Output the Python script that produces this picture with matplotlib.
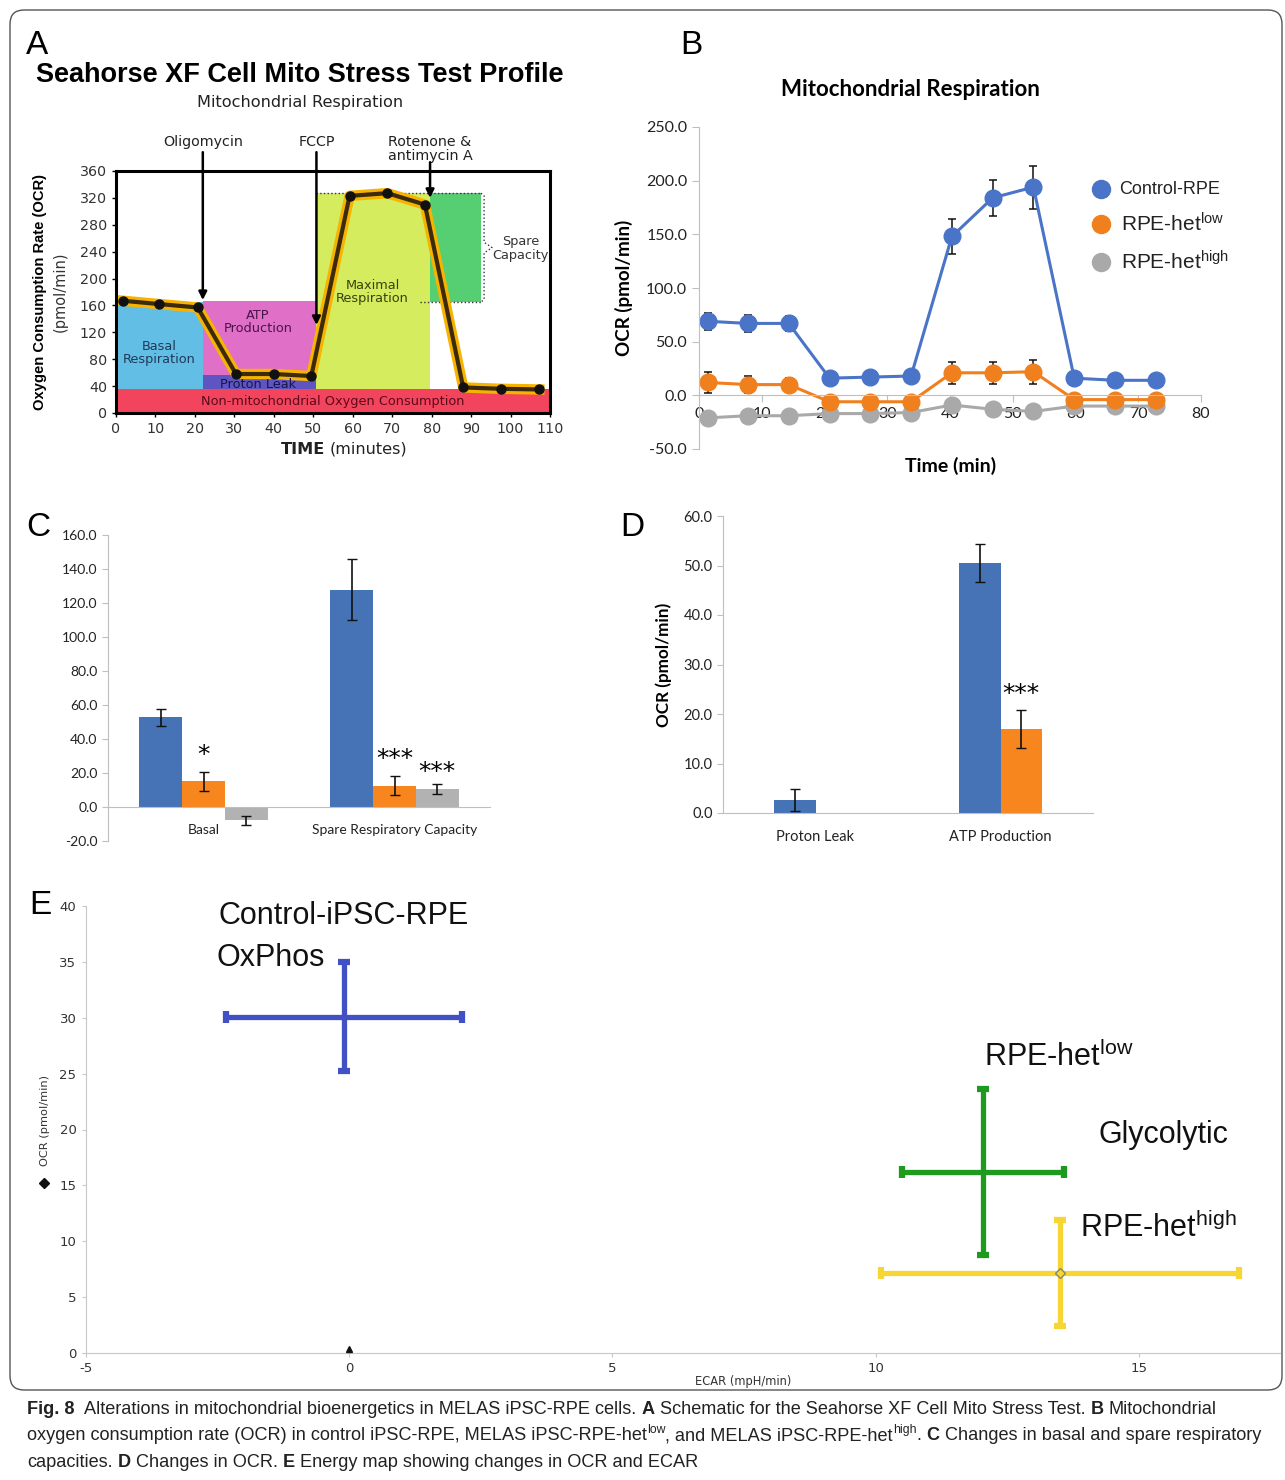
import matplotlib
matplotlib.use("Agg")
import matplotlib.pyplot as plt
from matplotlib.patches import Rectangle, FancyBboxPatch
from matplotlib.lines import Line2D
from matplotlib.transforms import IdentityTransform
import numpy as np

W, H = 1285, 1480

plt.rcParams['font.family'] = ['DejaVu Sans']
plt.rcParams['mathtext.default'] = 'regular'

# ---------------- data ----------------
# A: schematic Seahorse profile
a_time = [1.7, 11, 20.7, 30.4, 40, 49.5, 59.2, 68.8, 78.3, 88, 97.5, 107.3]
a_ocr = [167, 162, 157, 58, 58, 55, 323, 327, 310, 38, 36, 35]
a_inject = [22, 50.8, 79.6]          # oligomycin, FCCP, rotenone/antimycin
a_nonmito, a_leak, a_basal, a_max = 35, 57, 165, 327
a_spare_end = 92.5

# B: mitochondrial respiration time course
b_time = [1.4, 7.8, 14.3, 20.8, 27.3, 33.8, 40.3, 46.8, 53.3, 59.8, 66.3, 72.8]
b_control = [69, 67, 67, 16, 17, 18, 148, 184, 194, 16, 14, 14]
b_control_err = [8, 8, 7, 2, 2, 2, 16, 17, 20, 2, 2, 2]
b_low = [12, 10, 10, -6, -6, -6, 21, 21, 22, -4, -4, -4]
b_low_err = [10, 8, 6, 2, 2, 2, 10, 10, 11, 2, 2, 2]
b_high = [-21, -19, -19, -17, -17, -16, -9, -13, -15, -10, -10, -10]
b_high_err = [3, 3, 3, 3, 3, 3, 4, 4, 5, 3, 3, 3]

# C: basal / spare capacity
c_categories = ['Basal', 'Spare Respiratory Capacity']
c_control = [52.8, 127.8]
c_control_err = [4.9, 18.0]
c_low = [15.1, 12.6]
c_low_err = [5.7, 5.4]
c_high = [-7.9, 10.6]
c_high_err = [2.6, 3.2]
c_low_sig = ['*', '***']
c_high_sig = ['', '***']

# D: proton leak / ATP production
d_categories = ['Proton Leak', 'ATP Production']
d_control = [2.6, 50.5]
d_control_err = [2.2, 3.8]
d_low = [0.0, 17.0]
d_low_err = [0.0, 3.8]
d_low_sig = ['', '***']

# E: energy map
e_ecar = [-0.1, 12.04, 13.5]
e_ecar_err = [2.24, 1.54, 3.4]
e_ocr = [30.1, 16.2, 7.15]
e_ocr_err = [4.9, 7.45, 4.75]

BLUE, ORANGE, GREY = '#4672b6', '#f7861f', '#b2b2b2'

fig = plt.figure(figsize=(W / 100, H / 100), dpi=100)
renderer = fig.canvas.get_renderer()


def px_axes(left, top, right, bottom):
    return fig.add_axes([left / W, 1 - bottom / H, (right - left) / W, (bottom - top) / H])


def ftext(x, y, s, **kw):
    return fig.text(x / W, 1 - y / H, s, **kw)


def text_width(s, **kw):
    t = fig.text(0, 0, s, **kw)
    w = t.get_window_extent(renderer).width
    t.remove()
    return w


def layout_runs(runs, size, family):
    space = text_width('x x', family=family, size=size) - text_width('xx', family=family, size=size)
    pieces = []
    for text, style in runs:
        lead = len(text) - len(text.lstrip(' '))
        trail = len(text) - len(text.rstrip(' '))
        kw = dict(family=family, size=size, color='#222', va='baseline')
        if style == 'b':
            kw['weight'] = 'bold'
        if style == 'sup':
            kw['size'] = size * 0.68
        s = text.strip(' ')
        pieces.append((s, style, lead, trail, kw, text_width(s, **kw)))
    total = sum(w + (l + tr) * space for (_, _, l, tr, _, w) in pieces)
    return pieces, space, total


def draw_runs(runs, x, y, size, family, ha='left'):
    pieces, space, total = layout_runs(runs, size, family)
    pos = x - total / 2 if ha == 'center' else x
    for s, style, lead, trail, kw, w in pieces:
        pos += lead * space
        dy = -size * 0.42 * 100 / 72 if style == 'sup' else 0
        ftext(pos, y + dy, s, **kw)
        pos += w + trail * space


# ---------------- frame ----------------
fig.add_artist(FancyBboxPatch((10, H - 1390), 1272, 1380, boxstyle='round,pad=0,rounding_size=14',
                              transform=IdentityTransform(), fill=False, ec='#555555', lw=1))

# ---------------- panel A ----------------
axA = px_axes(116, 171, 550, 413)
axA.set_xlim(0, 110)
axA.set_ylim(0, 360)
t_oli, t_fccp, t_rot = a_inject
axA.add_patch(Rectangle((0, 0), 110, a_nonmito, fc='#f3445e', ec='none', zorder=1))
axA.add_patch(Rectangle((0, a_nonmito), t_oli, a_basal - a_nonmito, fc='#63bee6', ec='none', zorder=1))
axA.add_patch(Rectangle((t_oli, a_leak), t_fccp - t_oli, a_basal + 2 - a_leak, fc='#e06fc8', ec='none', zorder=1))
axA.add_patch(Rectangle((t_oli, a_nonmito), t_fccp - t_oli, a_leak - a_nonmito, fc='#5f55c2', ec='none', zorder=1))
axA.add_patch(Rectangle((t_fccp, a_nonmito), t_rot - t_fccp, a_max - a_nonmito, fc='#d4ec5e', ec='none', zorder=1))
axA.add_patch(Rectangle((t_rot, a_basal), a_spare_end - t_rot, a_max - a_basal, fc='#55cf72', ec='none', zorder=1))
axA.plot([t_fccp, a_spare_end], [a_max, a_max], ls=':', color='#333', lw=1, zorder=2)
axA.plot([77, a_spare_end], [a_basal, a_basal], ls=':', color='#333', lw=1, zorder=2)
mid = (a_max + a_basal) / 2
axA.plot([a_spare_end, a_spare_end + 0.8, a_spare_end + 0.8, a_spare_end + 2.8, a_spare_end + 0.8,
          a_spare_end + 0.8, a_spare_end],
         [a_max, a_max - 4, mid + 8, mid, mid - 8, a_basal + 4, a_basal], ls=':', color='#333', lw=1,
         zorder=2, clip_on=False)

axA.plot(a_time, a_ocr, color='#f6b400', lw=7.5, solid_joinstyle='round', zorder=3)
axA.plot(a_time, a_ocr, color='#3d2a0a', lw=3, solid_joinstyle='round', zorder=4)
axA.plot(a_time, a_ocr, 'o', color='#111', ms=6.5, zorder=5)

lab = dict(ha='center', va='center', fontsize=9.3, linespacing=1.05, zorder=6)
axA.text(10.9, 89, 'Basal\nRespiration', color='#1f3a5a', **lab)
axA.text(36, 135, 'ATP\nProduction', color='#4a1548', **lab)
axA.text(36, 43, 'Proton Leak', color='#16164a', **lab)
axA.text(55, 17, 'Non-mitochondrial Oxygen Consumption', color='#5a0a1a', **lab)
axA.text(65, 180, 'Maximal\nRespiration', color='#38420e', **lab)
axA.text(102.5, 245, 'Spare\nCapacity', color='#333', clip_on=False, **lab)

for tx, lbl, tip in [(t_oli, 'Oligomycin', 168), (t_fccp, 'FCCP', 131), (t_rot, 'Rotenone &\nantimycin A', 320)]:
    start = 388 if '\n' not in lbl else 373
    axA.annotate('', xy=(tx, tip), xytext=(tx, start),
                 arrowprops=dict(arrowstyle='-|>', lw=1.8, color='k', mutation_scale=12, shrinkA=0, shrinkB=0),
                 annotation_clip=False, zorder=7)
    axA.text(tx, 403 if '\n' not in lbl else 393, lbl, ha='center', va='center', fontsize=10.3,
             color='#222', linespacing=0.95, clip_on=False)

for s in axA.spines.values():
    s.set_linewidth(2.2)
    s.set_zorder(8)
axA.set_xticks(range(0, 111, 10))
axA.set_yticks(range(0, 361, 40))
axA.tick_params(labelsize=10.3, length=3, width=1, labelcolor='#333')

ftext(37, 45, 'A', fontsize=24, family='Liberation Sans', ha='center', va='center')
ftext(300, 75, 'Seahorse XF Cell Mito Stress Test Profile', fontsize=19.5, weight='bold',
      family='Liberation Sans', ha='center', va='center')
ftext(300, 102, 'Mitochondrial Respiration', fontsize=11.6, ha='center', va='center', color='#222')
ftext(40, 292, 'Oxygen Consumption Rate (OCR)', rotation=90, fontsize=10.6, weight='bold',
      family='Liberation Sans', ha='center', va='center')
ftext(60, 292, '(pmol/min)', rotation=90, fontsize=10.5, ha='center', va='center', color='#333')
draw_runs([('TIME', 'b'), (' (minutes)', 'n')], 344, 454, 11.6, 'DejaVu Sans', ha='center')

# ---------------- panel B ----------------
axB = px_axes(699, 127, 1201, 449)
axB.set_xlim(0, 80)
axB.set_ylim(-50, 250)
for vals, errs, col in [(b_high, b_high_err, '#a9a9a9'), (b_low, b_low_err, '#f07f1e'),
                        (b_control, b_control_err, '#4a74c8')]:
    axB.errorbar(b_time, vals, yerr=errs, color=col, marker='o', ms=12, lw=2.2, ecolor='#111',
                 elinewidth=1.1, capsize=3, capthick=1.1)
axB.spines[['top', 'right']].set_visible(False)
axB.spines['left'].set_color('#bfbfbf')
axB.spines['bottom'].set_color('#bfbfbf')
axB.spines['bottom'].set_position(('data', 0))
axB.set_xticks(range(0, 81, 10), labels=[str(v) for v in range(0, 81, 10)], fontfamily='Lato', fontsize=11.5)
axB.set_yticks(range(-50, 251, 50), labels=[f'{v:.1f}' for v in range(-50, 251, 50)],
               fontfamily='Lato', fontsize=11.5)
axB.tick_params(color='#bfbfbf', labelcolor='#222', length=5)

ftext(691, 45, 'B', fontsize=24, family='Liberation Sans', ha='center', va='center')
ftext(910, 90, 'Mitochondrial Respiration', fontsize=16, weight='bold', family='Lato',
      ha='center', va='center')
ftext(624, 288, 'OCR (pmol/min)', rotation=90, fontsize=13.5, weight='bold', family='Lato',
      ha='center', va='center')
ftext(951, 466, 'Time (min)', fontsize=14, weight='bold', family='Lato', ha='center', va='center')

for (ly, lx, col, txt, fs) in [(189, 1119, '#4a74c8', 'Control-RPE', 13),
                               (224, 1121, '#f07f1e', 'RPE-het$^{low}$', 15),
                               (262, 1121, '#a9a9a9', 'RPE-het$^{high}$', 15)]:
    fig.add_artist(Line2D([1101 / W], [1 - ly / H], marker='o', ms=13, color=col, ls='none',
                          transform=fig.transFigure))
    ftext(lx, ly, txt, fontsize=fs, family='Liberation Sans', va='center', color='#222')

# ---------------- panel C ----------------
axC = px_axes(108, 535, 490, 841)
xc = np.arange(len(c_categories))
wc = 0.224
for i, (vals, errs, col) in enumerate([(c_control, c_control_err, BLUE), (c_low, c_low_err, ORANGE),
                                       (c_high, c_high_err, GREY)]):
    pos = xc + (i - 1) * wc
    axC.bar(pos, vals, wc, color=col, zorder=2)
    axC.errorbar(pos, vals, yerr=errs, fmt='none', ecolor='#111', elinewidth=1.2, capsize=3.5, zorder=3)
for i in range(len(c_categories)):
    if c_low_sig[i]:
        axC.text(xc[i], c_low[i] + c_low_err[i] + 10, c_low_sig[i], ha='center', va='center', fontsize=18)
    if c_high_sig[i]:
        axC.text(xc[i] + wc, c_high[i] + c_high_err[i] + 6.5, c_high_sig[i], ha='center', va='center',
                 fontsize=18)
axC.set_xlim(-0.5, 1.5)
axC.set_ylim(-20, 160)
axC.spines[['top', 'right']].set_visible(False)
axC.spines['left'].set_color('#bfbfbf')
axC.spines['bottom'].set_color('#bfbfbf')
axC.spines['bottom'].set_position(('data', 0))
axC.set_xticks(xc, labels=c_categories, fontfamily='Lato', fontsize=10)
axC.set_yticks(range(-20, 161, 20), labels=[f'{v:.1f}' for v in range(-20, 161, 20)],
               fontfamily='Lato', fontsize=10)
axC.tick_params(axis='x', length=0, pad=12, labelcolor='#222')
axC.tick_params(axis='y', color='#bfbfbf', length=4, labelcolor='#222')
ftext(38, 528, 'C', fontsize=24, family='Liberation Sans', ha='center', va='center')

# ---------------- panel D ----------------
axD = px_axes(723, 516, 1093, 813)
xd = np.arange(len(d_categories))
wd = 0.223
for i, (vals, errs, col) in enumerate([(d_control, d_control_err, BLUE), (d_low, d_low_err, ORANGE)]):
    pos = xd + (i - 0.5) * wd
    axD.bar(pos, vals, wd, color=col, zorder=2)
    keep = np.array(errs) > 0
    axD.errorbar(pos[keep], np.array(vals)[keep], yerr=np.array(errs)[keep], fmt='none', ecolor='#111',
                 elinewidth=1.2, capsize=3.5, zorder=3)
for i in range(len(d_categories)):
    if d_low_sig[i]:
        axD.text(xd[i] + wd / 2, d_low[i] + d_low_err[i] + 3.3, d_low_sig[i], ha='center', va='center',
                 fontsize=18)
axD.set_xlim(-0.5, 1.5)
axD.set_ylim(0, 60)
axD.spines[['top', 'right']].set_visible(False)
axD.spines['left'].set_color('#bfbfbf')
axD.spines['bottom'].set_color('#bfbfbf')
axD.set_xticks(xd, labels=d_categories, fontfamily='Lato', fontsize=10.5)
axD.set_yticks(range(0, 61, 10), labels=[f'{v:.1f}' for v in range(0, 61, 10)],
               fontfamily='Lato', fontsize=10.5)
axD.tick_params(axis='x', length=0, pad=12, labelcolor='#222')
axD.tick_params(axis='y', color='#bfbfbf', length=4, labelcolor='#222')
ftext(632, 528, 'D', fontsize=24, family='Liberation Sans', ha='center', va='center')
ftext(664, 665, 'OCR (pmol/min)', rotation=90, fontsize=12.3, weight='bold', family='Lato',
      ha='center', va='center')

# ---------------- panel E ----------------
axE = px_axes(85.5, 906, 1280, 1353)
axE.set_xlim(-5, 17.67)
axE.set_ylim(0, 40)
for i, col in enumerate(['#4150c4', '#1e9a1e', '#f7d532']):
    axE.errorbar([e_ecar[i]], [e_ocr[i]], xerr=[e_ecar_err[i]], yerr=[e_ocr_err[i]], fmt='none',
                 ecolor=col, elinewidth=3.8, capsize=4.5, capthick=4.5, zorder=3)
axE.plot([e_ecar[2]], [e_ocr[2]], marker='D', ms=5, mfc='none', mec='#888866', mew=1, zorder=4)
axE.plot([0], [0.35], marker='^', ms=5, color='#111', zorder=4, clip_on=False)
axE.spines[['top', 'right']].set_visible(False)
axE.spines['left'].set_color('#c8c8c8')
axE.spines['bottom'].set_color('#c8c8c8')
axE.set_xticks(range(-5, 16, 5), labels=[str(v) for v in range(-5, 16, 5)], fontsize=9.5)
axE.set_yticks(range(0, 41, 5), labels=[str(v) for v in range(0, 41, 5)], fontsize=9.5)
axE.tick_params(color='#c8c8c8', length=3, labelcolor='#333')

ftext(40, 905, 'E', fontsize=24, family='Liberation Sans', ha='center', va='center')
big = dict(fontsize=22, family='Liberation Sans', va='center', color='#111')
ftext(218, 916, 'Control-iPSC-RPE', **big)
ftext(217, 958, 'OxPhos', **big)
ftext(984, 1057, 'RPE-het$^{low}$', **big)
ftext(1098, 1135, 'Glycolytic', **big)
ftext(1080, 1228, 'RPE-het$^{high}$', **big)
ftext(45, 1120, 'OCR (pmol/min)', rotation=90, fontsize=8.2, ha='center', va='center', color='#333')
fig.add_artist(Line2D([44 / W], [1 - 1183 / H], marker='D', ms=5, color='#111', ls='none',
                      transform=fig.transFigure))
ftext(743, 1381, 'ECAR (mpH/min)', fontsize=8.3, ha='center', va='center', color='#333')

# ---------------- caption ----------------
cap_font = 'Liberation Sans'
lines = [
    [('Fig. 8', 'b'), ('  Alterations in mitochondrial bioenergetics in MELAS iPSC-RPE cells. ', 'n'),
     ('A', 'b'), (' Schematic for the Seahorse XF Cell Mito Stress Test. ', 'n'), ('B', 'b'),
     (' Mitochondrial', 'n')],
    [('oxygen consumption rate (OCR) in control iPSC-RPE, MELAS iPSC-RPE-het', 'n'), ('low', 'sup'),
     (', and MELAS iPSC-RPE-het', 'n'), ('high', 'sup'), ('. ', 'n'), ('C', 'b'),
     (' Changes in basal and spare respiratory', 'n')],
    [('capacities. ', 'n'), ('D', 'b'), (' Changes in OCR. ', 'n'), ('E', 'b'),
     (' Energy map showing changes in OCR and ECAR', 'n')],
]
# size the caption so that its longest line ends where the reference's does
widest = max(layout_runs(runs, 14, cap_font)[2] for runs in lines)
cap_size = 14 * (1267 - 27) / widest
for k, runs in enumerate(lines):
    draw_runs(runs, 27, 1414 + k * 26.5, cap_size, cap_font)

fig.savefig('out.png', dpi=100)
